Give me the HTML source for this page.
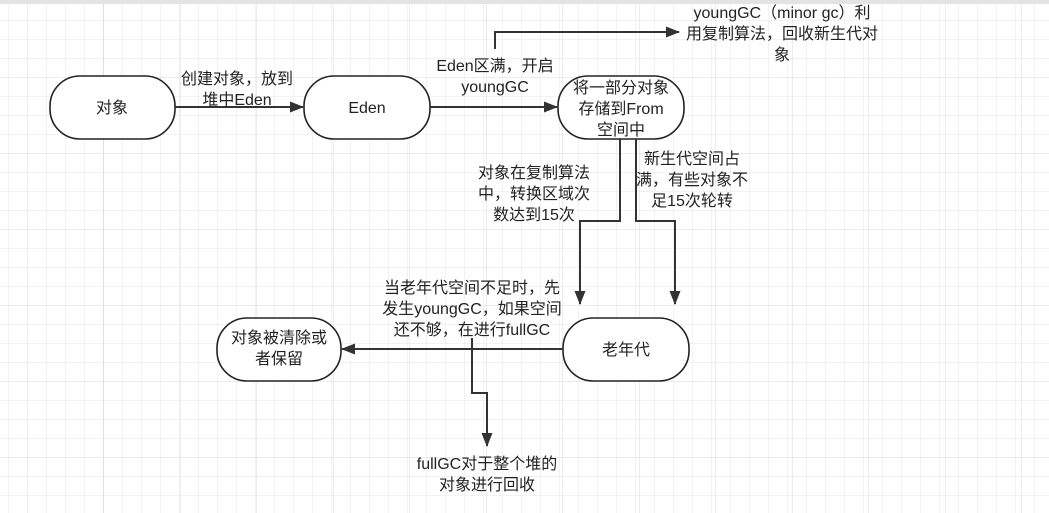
<!DOCTYPE html>
<html><head><meta charset="utf-8"><style>
html,body{margin:0;padding:0;}
body{width:1049px;height:513px;overflow:hidden;background:#fff;font-family:"Liberation Sans","Noto Sans CJK SC",sans-serif;}
</style></head><body>
<svg width="1049" height="513" xmlns="http://www.w3.org/2000/svg" style="display:block">
<defs>
<pattern id="g" x="8" y="1" width="19" height="19" patternUnits="userSpaceOnUse">
<path d="M0 0H19M0 0V19" stroke="#e6e6e6" stroke-width="1" fill="none"/>
</pattern>
<pattern id="G" x="27" y="1" width="76.5" height="76" patternUnits="userSpaceOnUse">
<path d="M0 0H76.5M0 0V76" stroke="#d8d8d8" stroke-width="1" fill="none"/>
</pattern>
<marker id="a" markerWidth="14" markerHeight="12" refX="13" refY="5.5" orient="auto" markerUnits="userSpaceOnUse">
<path d="M0 0L14 5.5L0 11Z" fill="#333"/>
</marker>
</defs>
<rect width="1049" height="513" fill="url(#g)"/>
<rect width="1049" height="513" fill="url(#G)"/>
<rect width="1049" height="4" fill="#e3e3e3"/>
<g fill="#fff" stroke="#222" stroke-width="1.6">
<rect x="50" y="76" width="125" height="63" rx="30"/>
<rect x="304" y="76" width="126" height="63" rx="30"/>
<rect x="558" y="76" width="126" height="63" rx="30"/>
<rect x="563" y="318" width="126" height="63" rx="30"/>
<rect x="217" y="318" width="124" height="63" rx="30"/>
</g>
<g stroke="#333" stroke-width="2" fill="none" marker-end="url(#a)">
<path d="M175 107H303"/>
<path d="M430 107H557"/>
<path d="M495 49V32H679"/>
<path d="M620 139V221H580V304"/>
<path d="M636 139V221H675V304"/>
<path d="M563 349H342"/>
<path d="M472 338V393H487V446"/>
</g>
<g font-size="16" fill="#222" text-anchor="middle">
<text x="112" y="113">对象</text>
<text x="367" y="113">Eden</text>
<text x="621" y="93">将一部分对象</text>
<text x="621" y="114">存储到From</text>
<text x="621" y="135">空间中</text>
<text x="626" y="355">老年代</text>
<text x="279" y="343">对象被清除或</text>
<text x="279" y="364">者保留</text>
<text x="237" y="84">创建对象，放到</text>
<text x="237" y="105">堆中Eden</text>
<text x="495" y="71">Eden区满，开启</text>
<text x="495" y="92">youngGC</text>
<text x="782" y="18">youngGC（minor gc）利</text>
<text x="782" y="39">用复制算法，回收新生代对</text>
<text x="782" y="60">象</text>
<text x="534" y="178">对象在复制算法</text>
<text x="534" y="199">中，转换区域次</text>
<text x="534" y="220">数达到15次</text>
<text x="692" y="164">新生代空间占</text>
<text x="692" y="185">满，有些对象不</text>
<text x="692" y="206">足15次轮转</text>
<text x="472" y="293">当老年代空间不足时，先</text>
<text x="472" y="314">发生youngGC，如果空间</text>
<text x="472" y="335">还不够，在进行fullGC</text>
<text x="487" y="469">fullGC对于整个堆的</text>
<text x="487" y="490">对象进行回收</text>
</g>
</svg>
</body></html>
